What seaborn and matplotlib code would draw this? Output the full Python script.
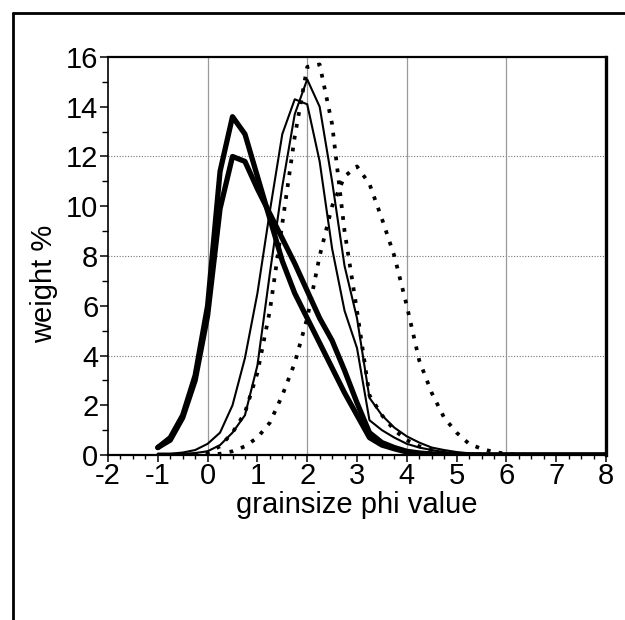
import matplotlib
matplotlib.use("Agg")
import matplotlib.pyplot as plt
from matplotlib.lines import Line2D
from matplotlib.ticker import MultipleLocator
import seaborn as sns
import numpy as np

# phi classes, quarter-phi steps from -1 to 8
phi = [-1 + 0.25 * i for i in range(37)]

thick_a = [0.3, 0.7, 1.6, 3.2, 6.0, 11.4, 13.6, 12.9, 11.2, 9.5, 7.8, 6.5, 5.5, 4.5, 3.5, 2.5,
           1.6, 0.7, 0.4, 0.25, 0.12, 0.06, 0.03, 0.02, 0.01, 0, 0, 0, 0, 0, 0, 0, 0, 0, 0, 0, 0]
thick_b = [0.3, 0.6, 1.5, 3.0, 5.6, 9.9, 12.0, 11.8, 10.7, 9.7, 8.7, 7.7, 6.6, 5.5, 4.6, 3.4,
           2.1, 0.9, 0.5, 0.3, 0.15, 0.08, 0.04, 0.02, 0.01, 0, 0, 0, 0, 0, 0, 0, 0, 0, 0, 0, 0]
thin_c = [0.05, 0.05, 0.05, 0.08, 0.15, 0.4, 0.9, 1.6, 3.6, 7.3, 10.8, 13.7, 15.1, 14.0, 11.0, 7.6,
          5.5, 2.3, 1.6, 1.1, 0.75, 0.5, 0.3, 0.2, 0.12, 0.07, 0.04, 0.02, 0.01, 0, 0, 0, 0, 0, 0, 0, 0]
thin_d = [0.05, 0.05, 0.1, 0.2, 0.45, 0.9, 2.0, 3.9, 6.5, 9.8, 12.9, 14.3, 14.1, 11.8, 8.3, 5.8,
          4.3, 1.4, 1.0, 0.7, 0.45, 0.3, 0.2, 0.12, 0.07, 0.04, 0.02, 0.01, 0, 0, 0, 0, 0, 0, 0, 0, 0]
dot_e = [0, 0, 0, 0.02, 0.1, 0.35, 0.9, 1.7, 3.3, 5.8, 9.3, 12.8, 15.6, 15.7, 13.3, 9.0,
         5.8, 2.4, 1.6, 1.0, 0.6, 0.35, 0.2, 0.1, 0.05, 0.03, 0.02, 0, 0, 0, 0, 0, 0, 0, 0, 0, 0]
dot_f = [0, 0, 0, 0, 0.02, 0.05, 0.15, 0.35, 0.7, 1.3, 2.4, 3.7, 5.5, 8.0, 10.0, 11.2,
         11.6, 10.9, 9.5, 8.0, 6.0, 3.8, 2.5, 1.5, 0.9, 0.45, 0.25, 0.12, 0.05, 0.02, 0, 0, 0, 0, 0, 0, 0]

series = [
    (thick_a, 3.8, "-"),
    (thick_b, 3.8, "-"),
    (thin_c, 1.5, "-"),
    (thin_d, 1.5, "-"),
    (dot_e, 2.7, (0, (1, 2.2))),
    (dot_f, 2.7, (0, (1, 2.2))),
]


def main():
    sns.set_theme(style="white")
    plt.rcParams["font.family"] = ["Liberation Sans", "DejaVu Sans"]
    plt.rcParams["axes.unicode_minus"] = False
    plt.rcParams["text.color"] = "black"
    plt.rcParams["axes.labelcolor"] = "black"
    plt.rcParams["xtick.color"] = "black"
    plt.rcParams["ytick.color"] = "black"

    fig = plt.figure(figsize=(6.25, 6.2), dpi=100)
    ax = fig.add_axes([0.1728, 0.2661, 0.7968, 0.642])

    for vals, lw, ls in series:
        sns.lineplot(x=phi, y=vals, ax=ax, color="black", lw=lw, linestyle=ls, zorder=3)

    ax.set_xlim(-2, 8)
    ax.set_ylim(0, 16)
    ax.xaxis.set_major_locator(MultipleLocator(1))
    ax.xaxis.set_minor_locator(MultipleLocator(0.25))
    ax.yaxis.set_major_locator(MultipleLocator(2))
    ax.yaxis.set_minor_locator(MultipleLocator(1))

    # grid: dotted horizontals every 4, thin verticals every 2
    for yv in [4, 8, 12]:
        ax.axhline(yv, color="#777777", lw=0.8, ls=(0, (1, 1.5)), zorder=1)
    for xv in [0, 2, 4, 6]:
        ax.axvline(xv, color="#999999", lw=0.9, zorder=1)

    ax.tick_params(axis="y", which="major", direction="out", length=6, width=1.1,
                   color="black", labelcolor="black", labelsize=21, pad=1, left=True)
    ax.tick_params(axis="y", which="minor", direction="out", length=4, width=1.0,
                   color="black", left=True)
    ax.tick_params(axis="x", which="major", direction="out", length=5, width=1.1,
                   color="black", labelcolor="black", labelsize=21, pad=0, bottom=True)
    ax.tick_params(axis="x", which="minor", direction="out", length=3, width=1.0,
                   color="black", bottom=True)

    for side, w in [("left", 1.2), ("bottom", 1.6), ("top", 1.6), ("right", 2.4)]:
        ax.spines[side].set_color("black")
        ax.spines[side].set_linewidth(w)

    ax.set_xlabel("grainsize phi value", fontsize=21, labelpad=1, color="black")
    ax.set_ylabel("weight %", fontsize=21, color="black")
    ax.yaxis.set_label_coords(-0.10, 0.43)

    # outer frame (left and top edges only)
    fig.add_artist(Line2D([0.0208, 0.0208], [0.0, 0.979], color="black", lw=2.0))
    fig.add_artist(Line2D([0.0208, 1.0], [0.979, 0.979], color="black", lw=2.0))

    plt.savefig("out.png", dpi=100)


if __name__ == "__main__":
    main()
